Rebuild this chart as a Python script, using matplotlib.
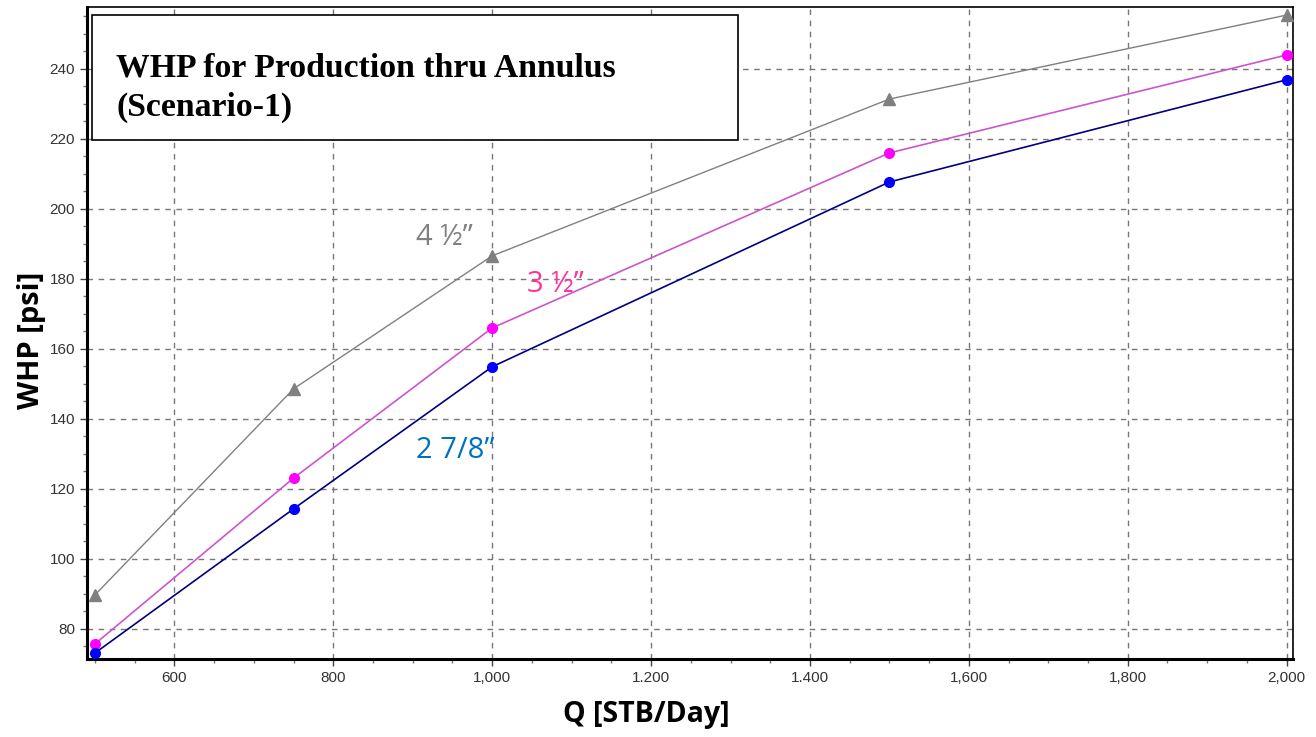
import numpy as np
import matplotlib.pyplot as plt
from matplotlib.ticker import FixedLocator, MultipleLocator

q = [500, 750, 1000, 1500, 2000]
whp_278 = [73.1, 114.3, 154.9, 207.7, 236.9]
whp_312 = [75.7, 123.1, 166.0, 216.0, 244.0]
whp_412 = [89.7, 148.6, 186.6, 231.4, 255.4]

x_ticks = [600, 800, 1000, 1200, 1400, 1600, 1800, 2000]
x_labels = ['600', '800', '1,000', '1.200', '1.400', '1,600', '1,800', '2,000']
y_ticks = [80, 100, 120, 140, 160, 180, 200, 220, 240]

fig = plt.figure(figsize=(13.16, 7.37), dpi=100)
ax = fig.add_axes([87/1316, 1 - 659/737, (1293-87)/1316, (659-7)/737])

ax.plot(q, whp_412, color='#808080', lw=1.0, marker='^', ms=8,
        mfc='#808080', mec='#808080', zorder=3)
ax.plot(q, whp_312, color='#cc55cc', lw=1.2, marker='o', ms=7,
        mfc='#ff00ff', mec='#ff00ff', zorder=3)
ax.plot(q, whp_278, color='#000080', lw=1.2, marker='o', ms=7,
        mfc='#0000ff', mec='#0000ff', zorder=3)

ax.set_xlim(490, 2008)
ax.set_ylim(71.4, 257.7)
ax.xaxis.set_major_locator(FixedLocator(x_ticks))
ax.set_xticklabels(x_labels)
ax.xaxis.set_minor_locator(MultipleLocator(50))
ax.yaxis.set_major_locator(FixedLocator(y_ticks))
ax.yaxis.set_minor_locator(MultipleLocator(5))
ax.tick_params(which='major', length=5, width=1, labelsize=11,
               labelcolor='#333333', color='#444444')
ax.tick_params(which='minor', length=3, width=1, color='#777777')
for lab in ax.get_xticklabels() + ax.get_yticklabels():
    lab.set_family('Liberation Sans')

ax.grid(True, which='major', ls=(0, (4, 4)), color='#777777', lw=1)
for s in ax.spines.values():
    s.set_linewidth(1.2)
ax.spines['left'].set_linewidth(2.2)
ax.spines['bottom'].set_linewidth(2.2)

ax.set_xlabel('Q [STB/Day]', fontsize=20.5, fontweight='bold',
              family='Open Sans')
ax.set_ylabel('WHP [psi]', fontsize=21, fontweight='bold',
              family='Open Sans')
ax.xaxis.set_label_coords((646-87)/1206, -(700-659)/652)
ax.yaxis.set_label_coords(-(87-46)/1206, (659-340)/652)

# title box, on top of the grid
box = plt.Rectangle((92/1316, 1 - 140/737), (738-92)/1316, (140-15)/737,
                    transform=fig.transFigure, facecolor='white',
                    edgecolor='black', lw=1.2, zorder=10, clip_on=False)
ax.add_patch(box)
ax.text((116-87)/1206, (659-88)/652, 'WHP for Production thru Annulus\n(Scenario-1)',
        transform=ax.transAxes, family='Liberation Serif', fontweight='bold',
        fontsize=24.3, va='center', ha='left', linespacing=1.35, zorder=11)

ax.text(940, 191.7, '4 ½\u201d', color='#808080',
        fontsize=21, family='Open Sans', ha='center', va='center')
ax.text(1079, 178.3, '3 ½\u201d', color='#ff3399',
        fontsize=21, family='Open Sans', ha='center', va='center')
ax.text(953, 131.1, '2 7/8\u201d', color='#0070c0',
        fontsize=21, family='Open Sans', ha='center', va='center')

fig.savefig('out.png', dpi=100)
